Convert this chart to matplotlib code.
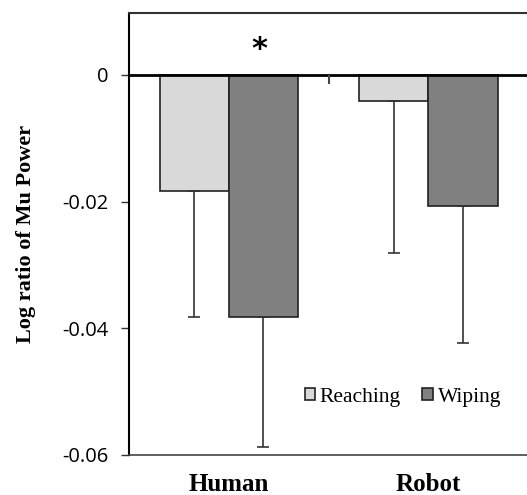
import numpy as np
import matplotlib
matplotlib.use('Agg')
import matplotlib.pyplot as plt

categories = ['Human', 'Robot']
conditions = ['Reaching', 'Wiping']
reaching = [-0.0183, -0.0041]
wiping = [-0.0382, -0.0207]
reaching_err = [0.0199, 0.0240]
wiping_err = [0.0205, 0.0216]
yticks = [0, -0.02, -0.04, -0.06]
ytick_labels = ['0', '-0.02', '-0.04', '-0.06']

fig = plt.figure(figsize=(5.27, 4.95), dpi=100)
ax = fig.add_axes([0.245, 0.081, 0.757, 0.893])

x = np.arange(len(categories))
w = 0.347
err_kw = dict(ecolor='#333333', elinewidth=1.2, capsize=4, capthick=1.2)
ax.bar(x - w/2, reaching, w, color='#d9d9d9', edgecolor='#222222', linewidth=1.2,
       yerr=[reaching_err, np.zeros(len(x))], error_kw=err_kw, label=conditions[0], zorder=2)
ax.bar(x + w/2, wiping, w, color='#808080', edgecolor='#222222', linewidth=1.2,
       yerr=[wiping_err, np.zeros(len(x))], error_kw=err_kw, label=conditions[1], zorder=2)

# category axis sits at zero, with tick marks between categories
ax.axhline(0, color='black', linewidth=2, zorder=3)
ax.vlines(x[:-1] + 0.5, -0.0014, 0, color='#444444', linewidth=1.5, zorder=3)

ax.text(x[0] + w/2 - 0.02, 0.0040, '*', ha='center', va='center', fontsize=22,
        family='DejaVu Sans', fontweight='bold')

ax.set_xlim(-0.5, len(categories) - 0.5)
ax.set_ylim(-0.06, 0.0098)
ax.set_yticks(yticks)
ax.set_yticklabels(ytick_labels, family='Open Sans', fontsize=14.5)
ax.set_xticks(x)
ax.set_xticklabels(categories, family='Liberation Serif', fontweight='bold', fontsize=18)
ax.tick_params(axis='x', length=0, pad=13)
ax.tick_params(axis='y', direction='out', length=6, width=1, pad=9, color='#333333')

ax.spines['left'].set_linewidth(1.5)
ax.spines['top'].set_linewidth(1.5)
ax.spines['top'].set_color('#333333')
ax.spines['bottom'].set_color('#444444')
ax.spines['bottom'].set_linewidth(1.2)
ax.spines['right'].set_visible(False)

ax.set_ylabel('Log ratio of Mu Power', family='Liberation Serif', fontweight='bold',
              fontsize=16, labelpad=19)

ax.legend(loc='center', bbox_to_anchor=(0.686, 0.130), ncol=2, frameon=False,
          prop={'family': 'Liberation Serif', 'size': 15.5}, handlelength=0.5,
          handleheight=0.5, handletextpad=0.2, columnspacing=1.0, borderpad=0)

fig.savefig('out.png', dpi=100)
